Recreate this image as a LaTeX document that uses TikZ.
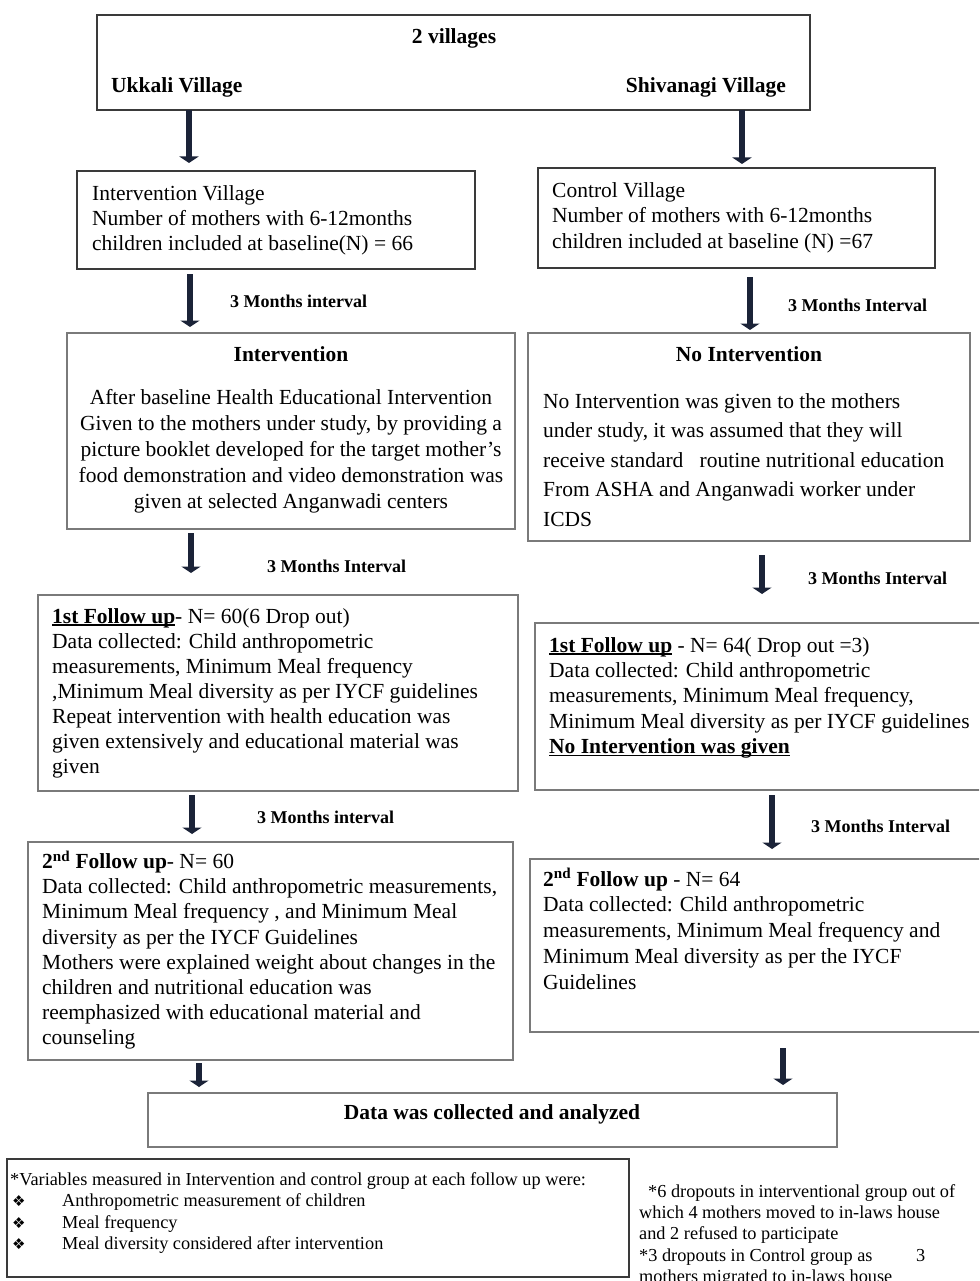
\documentclass[tikz,border=0pt]{standalone}
\usepackage{fontspec}
\setmainfont{Liberation Serif}
\newfontfamily\dejavu{DejaVu Sans}
\usetikzlibrary{arrows.meta}
\definecolor{navy}{HTML}{1B2338}
\definecolor{bdark}{HTML}{3A3A3A}
\definecolor{bgray}{HTML}{7A7A7A}
\newcommand\fs[2]{\fontsize{#1pt}{#2pt}\selectfont}
\newsavebox\ulbox
\newcommand\myul[1]{\sbox\ulbox{#1}\rlap{\rule[-2.4pt]{\wd\ulbox}{1.3pt}}\usebox\ulbox}
\newcommand\bul{\makebox[52pt][l]{\hspace{2pt}{\dejavu\fs{15}{21.7}❖}}}
\begin{document}
\begin{tikzpicture}[x=1pt,y=-1pt,
  box/.style={draw=bgray, line width=1.4pt, anchor=north west, inner sep=0pt, outer sep=0pt},
  dbox/.style={box, draw=bdark},
  body/.style={anchor=north west, inner sep=0pt, align=left, font=\fs{21.5}{#1}, yshift=0.7*#1pt},
  cbody/.style={anchor=north, inner sep=0pt, align=center, font=\fs{21.5}{#1}, yshift=0.7*#1pt},
  note/.style={anchor=north west, inner sep=0pt, align=left, font=\fs{18.3}{#1}, yshift=0.7*#1pt},
  lbl/.style={anchor=base west, inner sep=0pt, font=\bfseries\fs{18}{21}},
  head/.style={anchor=base, inner sep=0pt, font=\bfseries\fs{21.5}{25}},
  arr/.style={draw=navy, line width=6.5pt, -{Triangle[width=19pt,length=6.5pt]}}
]
\useasboundingbox (0,0) rectangle (979,1281);
\clip (0,0) rectangle (979,1281);
\fill[white] (0,0) rectangle (979,1281);

% boxes
\node[dbox, minimum width=713pt, minimum height=95pt] (top) at (97,15) {};
\node[dbox, minimum width=398pt, minimum height=98pt] (iv) at (77,171) {};
\node[dbox, minimum width=397pt, minimum height=100pt] (cv) at (538,168) {};
\node[box, minimum width=448pt, minimum height=196pt] (int) at (67,333) {};
\node[box, minimum width=442pt, minimum height=208pt] (noint) at (528,333) {};
\node[box, minimum width=480pt, minimum height=196pt] (fl) at (38,595) {};
\node[box, minimum width=450pt, minimum height=167pt] (fr) at (535,623) {};
\node[box, minimum width=485pt, minimum height=218pt] (sl) at (28,842) {};
\node[box, minimum width=455pt, minimum height=173pt] (sr) at (530,859) {};
\node[box, minimum width=689pt, minimum height=54pt] (data) at (148,1093) {};
\node[dbox, minimum width=622pt, minimum height=118pt] (notes) at (7,1159) {};

% top box texts
\node[head] (tv) at (454,44) {2 villages};
\node[head, anchor=base west] (uk) at (111,93) {Ukkali Village};
\node[head, anchor=base east] (sh) at (786,93) {Shivanagi Village};

% village boxes
\node[body=25] (ivt) at (92,200) {\strut Intervention Village\\Number of mothers with 6-12months\\children included at baseline(N) = 66};
\node[body=25.5] (cvt) at (552,197) {\strut Control Village\\Number of mothers with 6-12months\\children included at baseline (N) =67};

% interval labels
\node[lbl] (l1) at (230,307) {3 Months interval};
\node[lbl] (r1) at (788,311) {3 Months Interval};
\node[lbl] (l2) at (267,572) {3 Months Interval};
\node[lbl] (r2) at (808,584) {3 Months Interval};
\node[lbl] (l3) at (257,823) {3 Months interval};
\node[lbl] (r3) at (811,832) {3 Months Interval};

% intervention
\node[head] (inth) at (291,361) {Intervention};
\node[cbody=26] (intt) at (291,404) {\strut After baseline Health Educational Intervention\\Given to the mothers under study, by providing a\\picture booklet developed for the target mother’s\\food demonstration and video demonstration was\\given at selected Anganwadi centers};

\node[head] (noh) at (749,361) {No Intervention};
\node[body=29.5] (not) at (543,408) {\strut No Intervention was given to the mothers\\under study, it was assumed that they will\\receive standard\ \ \ routine nutritional education\\From ASHA and Anganwadi worker under\\ICDS};

% first follow up
\node[body=25] (flt) at (52,623) {\strut\myul{\textbf{1st Follow up}}- N= 60(6 Drop out)\\Data collected: Child anthropometric\\measurements, Minimum Meal frequency\\,Minimum Meal diversity as per IYCF guidelines\\Repeat intervention with health education was\\given extensively and educational material was\\given};
\node[body=25.3] (frt) at (549,652) {\strut\myul{\textbf{1st Follow up}} - N= 64( Drop out =3)\\Data collected: Child anthropometric\\measurements, Minimum Meal frequency,\\Minimum Meal diversity as per IYCF guidelines\\\myul{\textbf{No Intervention was given}}};

% second follow up
\node[body=25.2] (slt) at (42,868) {\strut\textbf{2\textsuperscript{nd} Follow up}- N= 60\\Data collected: Child anthropometric measurements,\\Minimum Meal frequency , and Minimum Meal\\diversity as per the IYCF Guidelines\\Mothers were explained weight about changes in the\\children and nutritional education was\\reemphasized with educational material and\\counseling};
\node[body=25.7] (srt) at (543,886) {\strut\textbf{2\textsuperscript{nd} Follow up} - N= 64\\Data collected: Child anthropometric\\measurements, Minimum Meal frequency and\\Minimum Meal diversity as per the IYCF\\Guidelines};

% data
\node[head] (datat) at (492,1119) {Data was collected and analyzed};

% notes
\node[note=21.5] (nt) at (10,1185) {\strut *Variables measured in Intervention and control group at each follow up were:\\\bul Anthropometric measurement of children\\\bul Meal frequency\\\bul Meal diversity considered after intervention};
\node[note=21.3] (rn) at (639,1197) {\strut\hspace*{9pt}*6 dropouts in interventional group out of\\which 4 mothers moved to in-laws house\\and 2 refused to participate\\\makebox[277pt][l]{*3 dropouts in Control group as}3\\mothers migrated to in-laws house};

% arrows
\draw[arr, shorten >=8pt] (top.south -| 189,0) -- (iv.north -| 189,0);
\draw[arr, shorten >=4pt] (top.south -| 742,0) -- (cv.north -| 742,0);
\draw[arr, shorten <=5pt, shorten >=6pt] (iv.south -| 190,0) -- (int.north -| 190,0);
\draw[arr, shorten <=9pt, shorten >=3pt] (cv.south -| 750,0) -- (noint.north -| 750,0);
\draw[arr, shorten <=4pt, shorten >=22pt] (int.south -| 191,0) -- (fl.north -| 191,0);
\draw[arr, shorten <=14pt, shorten >=29pt] (noint.south -| 762,0) -- (fr.north -| 762,0);
\draw[arr, shorten <=4pt, shorten >=8pt] (fl.south -| 192,0) -- (sl.north -| 192,0);
\draw[arr, shorten <=5pt, shorten >=10pt] (fr.south -| 772,0) -- (sr.north -| 772,0);
\draw[arr, shorten <=3pt, shorten >=6pt] (sl.south -| 199,0) -- (data.north -| 199,0);
\draw[arr, shorten <=16pt, shorten >=8pt] (sr.south -| 783,0) -- (data.north -| 783,0);
\end{tikzpicture}
\end{document}
